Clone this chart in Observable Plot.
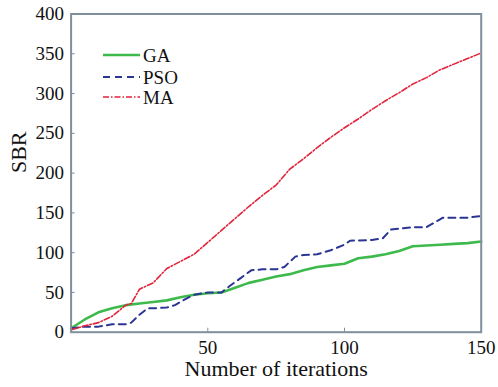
<!DOCTYPE html>
<html>
<head>
<meta charset="utf-8">
<script src="https://cdn.jsdelivr.net/npm/d3@7"></script>
<script src="https://cdn.jsdelivr.net/npm/@observablehq/plot@0.6"></script>
<style>
  body { margin: 0; background: #fff; }
  #wrap { position: relative; width: 498px; height: 387px; }
  #legend { position: absolute; left: 0; top: 0; }
</style>
</head>
<body>
<div id="wrap"></div>
<script>
const gaIter  = [0,5,10,15,20,25,30,35,40,45,50,55,60,65,70,75,80,85,90,95,100,105,110,115,120,125,130,135,140,145,150];
const gaSBR   = [5,16,25,30,34,36,38,40,44,47,49,50,56,62,66,70,73,78,82,84,86,93,95,98,102,108,109,110,111,112,114];
const psoIter = [0,5,10,15,20,22,25,28,30,35,38,42,45,50,55,58,62,66,70,75,78,82,85,90,95,100,102,110,114,117,125,130,134,136,145,150];
const psoSBR  = [5,7,7,10,10,12,22,30,30,31,34,42,47,50,50,58,68,78,79,79,82,95,97,98,103,110,115,116,118,129,132,132,140,144,144,146];
const maIter  = [0,5,10,15,20,22,25,30,35,40,45,50,55,60,65,70,75,80,85,90,95,100,105,110,115,120,125,130,135,140,145,150];
const maSBR   = [3,8,12,20,34,36,54,62,80,89,98,113,128,143,158,172,185,205,218,232,245,257,268,280,291,301,312,320,330,337,344,351];
const xTicks = [50,100,150];
const yTicks = [0,50,100,150,200,250,300,350,400];
const seriesNames = ["GA","PSO","MA"];

const colors = {GA: "#3dba4b", PSO: "#2b3593", MA: "#e0243c"};
const widths = {GA: 2.6, PSO: 2, MA: 1.6};
const dashes = {GA: null, PSO: "7,5", MA: "6,2,1.5,2"};

const toRows = (xs, ys) => xs.map((x, i) => ({x, y: ys[i]}));
const data = {GA: toRows(gaIter, gaSBR), PSO: toRows(psoIter, psoSBR), MA: toRows(maIter, maSBR)};

const font = "'Liberation Serif', 'DejaVu Serif', serif";
const plot = Plot.plot({
  width: 498, height: 387,
  marginLeft: 70.6, marginRight: 17.3, marginTop: 13.5, marginBottom: 55.3,
  style: {fontFamily: font, fontSize: "19px", color: "#111", background: "#fff"},
  x: {type: "linear", domain: [0,150]},
  y: {type: "linear", domain: [0,400]},
  marks: [
    Plot.axisX({ticks: xTicks, tickSize: 0, tickPadding: 8, label: null, fontSize: 19}),
    Plot.axisY({ticks: yTicks, tickSize: 0, tickPadding: 7, label: null, fontSize: 19}),
    Plot.ruleX(xTicks.slice(0,2), {x: d => d, y1: 0, y2: 5, stroke: "#7f8f9e", strokeWidth: 1}),
    Plot.ruleY(yTicks.slice(1,-1), {y: d => d, x1: 0, x2: 1.5, stroke: "#7f8f9e", strokeWidth: 1}),
    ...seriesNames.map(s => Plot.line(data[s], {x: "x", y: "y", stroke: colors[s], strokeWidth: widths[s], strokeDasharray: dashes[s]})),
    Plot.frame({stroke: "#7f8f9e", strokeWidth: 2}),
    Plot.text(["Number of iterations"], {frameAnchor: "bottom", dy: 43.5, fontSize: 22, text: d => d}),
    Plot.text(["SBR"], {frameAnchor: "left", dx: -52, rotate: -90, fontSize: 22, text: d => d})
  ]
});
document.getElementById("wrap").appendChild(plot);

// legend overlay
const lg = d3.select("#wrap").append("svg").attr("id","legend").attr("width",498).attr("height",387)
  .style("font-family", font);
const legY = [55, 77, 97];
seriesNames.forEach((s, i) => {
  lg.append("line").attr("x1",103).attr("x2",140).attr("y1",legY[i]).attr("y2",legY[i])
    .attr("stroke",colors[s]).attr("stroke-width",widths[s]).attr("stroke-dasharray",dashes[s]);
  lg.append("text").attr("x",143).attr("y",legY[i]).attr("dy","0.35em").attr("font-size",19).attr("fill","#111").text(s);
});
</script>
</body>
</html>
